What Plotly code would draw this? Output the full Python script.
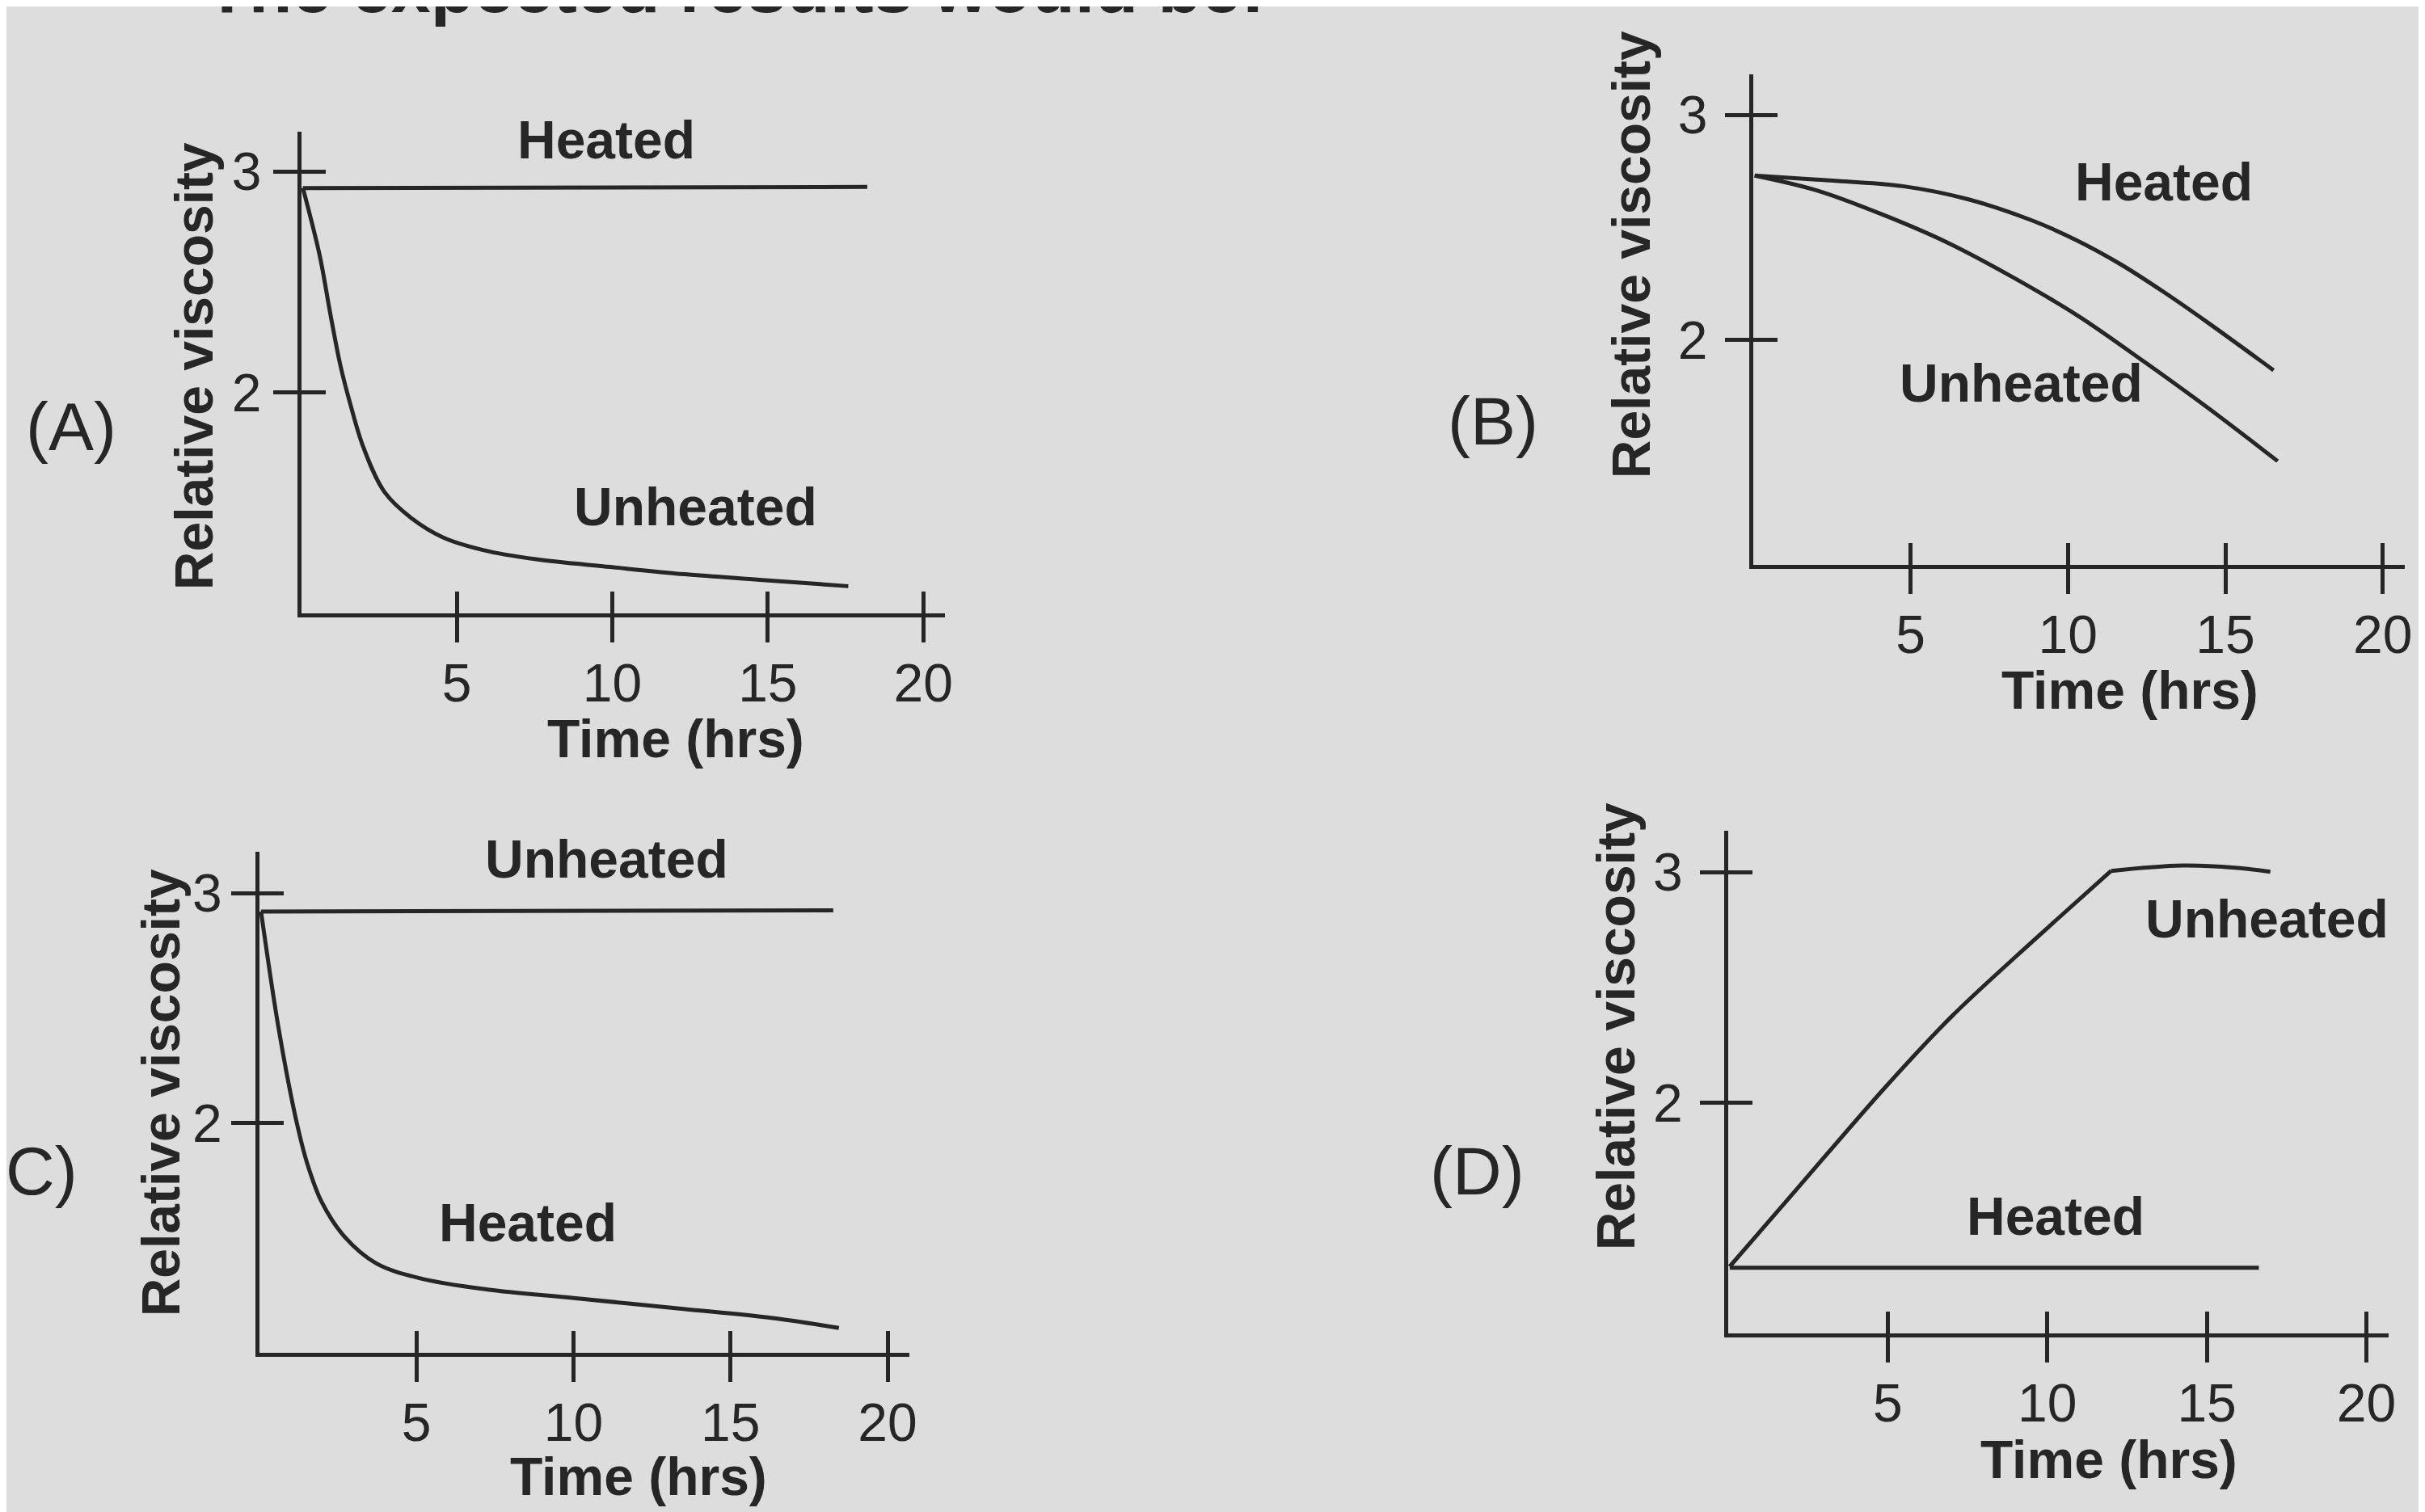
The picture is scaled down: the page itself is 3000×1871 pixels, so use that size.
import plotly.graph_objects as go

W, H = 3000, 1871
BG = "#dddddd"
INK = "#262626"
FONT = "Liberation Sans, Arial, sans-serif"

# ---------------- data ----------------
time_ticks = [5, 10, 15, 20]
time_tick_labels = ["5", "10", "15", "20"]
visc_ticks = [2, 3]
visc_tick_labels = ["2", "3"]

# Panel A
a_heated_t = [0.05, 18.2]
a_heated_v = [2.925, 2.93]
a_unheated_t = [0.05, 0.59, 0.94, 1.26, 1.57, 2.0, 2.67, 3.55, 4.54, 5.87, 7.55, 9.94, 12.33, 14.73, 17.59]
a_unheated_v = [2.925, 2.62, 2.35, 2.12, 1.95, 1.75, 1.55, 1.43, 1.345, 1.286, 1.245, 1.21, 1.177, 1.152, 1.123]

# Panel B
b_heated_t = [0.05, 2.01, 4.75, 6.82, 8.89, 10.27, 11.66, 13.05, 14.44, 16.53]
b_heated_v = [2.73, 2.712, 2.683, 2.625, 2.529, 2.443, 2.337, 2.212, 2.077, 1.865]
b_unheated_t = [0.05, 2.02, 4.09, 6.16, 8.24, 10.33, 12.41, 14.5, 16.66]
b_unheated_v = [2.73, 2.664, 2.558, 2.433, 2.279, 2.106, 1.904, 1.692, 1.461]

# Panel C
c_unheated_t = [0.05, 18.27]
c_unheated_v = [2.92, 2.925]
c_heated_t = [0.05, 0.51, 0.85, 1.19, 1.51, 1.98, 2.71, 3.71, 5.12, 7.22, 10.01, 13.5, 16.29, 18.45]
c_heated_v = [2.92, 2.495, 2.228, 2.0, 1.829, 1.657, 1.505, 1.39, 1.324, 1.276, 1.238, 1.191, 1.152, 1.108]

# Panel D
d_heated_t = [0.05, 16.63]
d_heated_v = [1.285, 1.285]
d_unheated_t = [0.05, 2.24, 4.94, 6.97, 9.02, 10.38, 12.0, 14.22, 15.88, 16.99]
d_unheated_v = [1.29, 1.64, 2.07, 2.37, 2.635, 2.805, 3.006, 3.029, 3.02, 3.002]
D_KINK = 6  # index of the sharp bend in the unheated curve of panel D


def seg(t, v, a, b):
    return t[a:b], v[a:b]


# ---------------- layout geometry (pixels) ----------------
panels = [
    dict(x0=366, x1=1165, ytop=155, ybot=751, ystand=1,
         series=[(a_heated_t, a_heated_v, "linear"), (a_unheated_t, a_unheated_v, "spline")],
         labels=[("Heated", 744, 165), ("Unheated", 855, 619)],
         letter=("(A)", 80, 520), ylab=(233, 445), xlab=(831, 906)),
    dict(x0=2168, x1=2977, ytop=84, ybot=691, ystand=8,
         series=[(b_heated_t, b_heated_v, "spline"), (b_unheated_t, b_unheated_v, "spline")],
         labels=[("Heated", 2678, 217), ("Unheated", 2501, 466)],
         letter=("(B)", 1845, 513), ylab=(2017, 307), xlab=(2636, 846)),
    dict(x0=314, x1=1121, ytop=1046, ybot=1666, ystand=-2,
         series=[(c_unheated_t, c_unheated_v, "linear"), (c_heated_t, c_heated_v, "spline")],
         labels=[("Unheated", 745, 1055), ("Heated", 647, 1505)],
         letter=("(C)", 30, 1441), ylab=(192, 1344), xlab=(785, 1819)),
    dict(x0=2137, x1=2957, ytop=1020, ybot=1642, ystand=8,
         series=[(d_heated_t, d_heated_v, "linear"),
                 seg(d_unheated_t, d_unheated_v, 0, D_KINK + 1) + ("spline",),
                 seg(d_unheated_t, d_unheated_v, D_KINK, None) + ("spline",)],
         labels=[("Unheated", 2806, 1129), ("Heated", 2543, 1497)],
         letter=("(D)", 1826, 1441), ylab=(1998, 1262), xlab=(2610, 1798)),
]

XR = [0, 20.7]
YR = [1, 3.18]
LW = 5

fig = go.Figure()
layout = dict(
    width=W, height=H,
    margin=dict(l=0, r=0, t=0, b=0),
    paper_bgcolor=BG, plot_bgcolor="rgba(0,0,0,0)",
    showlegend=False,
    annotations=[],
)


def px(x):
    return x / W


def py(y):
    return 1 - y / H


def ann(text, x, y, size, bold=True, angle=0, xanchor="center"):
    t = "<b>%s</b>" % text if bold else text
    layout["annotations"].append(dict(
        text=t, x=px(x), y=py(y), xref="paper", yref="paper",
        xanchor=xanchor, yanchor="middle", showarrow=False, textangle=angle,
        font=dict(family=FONT, size=size, color=INK)))


for i, p in enumerate(panels):
    n = i + 1
    m = i + 5
    xs = "" if n == 1 else str(n)
    ys = xs
    for t, v, shape in p["series"]:
        fig.add_trace(go.Scatter(
            x=t, y=v, mode="lines", xaxis="x" + xs, yaxis="y" + ys,
            line=dict(color=INK, width=LW, shape=shape, smoothing=1.0),
            hoverinfo="skip"))
    # invisible trace for the overlay (inside-tick) axes
    fig.add_trace(go.Scatter(x=[None], y=[None], xaxis="x%d" % m, yaxis="y%d" % m,
                             mode="lines", hoverinfo="skip"))

    dom_x = [px(p["x0"]), px(p["x1"])]
    dom_y = [py(p["ybot"]), py(p["ytop"])]
    layout["xaxis" + xs] = dict(
        domain=dom_x, range=XR, anchor="y" + ys,
        showline=True, linecolor=INK, linewidth=LW,
        ticks="outside", ticklen=31, tickwidth=LW, tickcolor=INK,
        tickvals=time_ticks, ticktext=time_tick_labels,
        tickfont=dict(family=FONT, size=66, color=INK),
        ticklabelstandoff=-6,
        showgrid=False, zeroline=False, fixedrange=True)
    layout["yaxis" + ys] = dict(
        domain=dom_y, range=YR, anchor="x" + xs,
        showline=True, linecolor=INK, linewidth=LW,
        ticks="outside", ticklen=30, tickwidth=LW, tickcolor=INK,
        tickvals=visc_ticks, ticktext=visc_tick_labels,
        tickfont=dict(family=FONT, size=66, color=INK),
        ticklabelstandoff=p["ystand"],
        showgrid=False, zeroline=False, fixedrange=True)
    layout["xaxis%d" % m] = dict(
        overlaying="x" + xs, anchor="y%d" % m, range=XR,
        showline=False, ticks="inside", ticklen=27, tickwidth=LW, tickcolor=INK,
        tickvals=time_ticks, showticklabels=False,
        showgrid=False, zeroline=False, fixedrange=True)
    layout["yaxis%d" % m] = dict(
        overlaying="y" + ys, anchor="x%d" % m, range=YR, side="left",
        showline=False, ticks="inside", ticklen=30, tickwidth=LW, tickcolor=INK,
        tickvals=visc_ticks, showticklabels=False,
        showgrid=False, zeroline=False, fixedrange=True)

    for text, lx, ly in p["labels"]:
        ann(text, lx, ly, 66)
    lt, lx, ly = p["letter"]
    ann(lt, lx, ly, 84, bold=False)
    ann("Relative viscosity", p["ylab"][0], p["ylab"][1], 66, angle=-90)
    ann("Time (hrs)", p["xlab"][0], p["xlab"][1], 66)

# Title, cut off at the top edge of the page
ann("The expected results would be:", 245, -24, 88, xanchor="left")

fig.update_layout(**layout)
fig.write_html("out.html")
